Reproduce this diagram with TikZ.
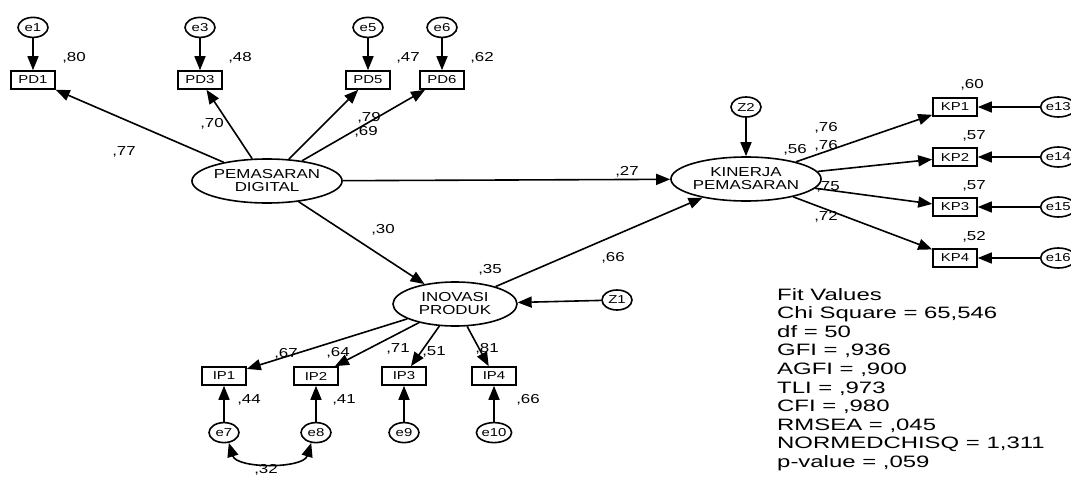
\documentclass[tikz,border=0pt]{standalone}
\usepackage{fontspec}
\setmainfont{Liberation Sans}
\newfontfamily\amosfont[FakeStretch=1.3]{Liberation Sans}
\newfontfamily\fitfont[FakeStretch=1.45]{Liberation Sans}
\usepackage{tikz}
\usetikzlibrary{positioning,shapes.geometric,arrows.meta}

\begin{document}
\begin{tikzpicture}[x=1pt,y=-1pt,
				latent/.style={draw, ellipse, line width=1.6pt, inner sep=0pt,
					minimum width=124pt, minimum height=44pt,
					align=center, font=\amosfont\fontsize{13}{13}\selectfont},
				err/.style={draw, ellipse, line width=1.6pt, inner sep=0pt,
					minimum width=30pt, minimum height=20pt,
					font=\amosfont\fontsize{11.5}{11.5}\selectfont},
				obs/.style={draw, rectangle, line width=1.6pt, inner sep=0pt,
					minimum width=44pt, minimum height=18pt,
					font=\amosfont\fontsize{11.5}{11.5}\selectfont},
				val/.style={inner sep=0pt, font=\amosfont\fontsize{13}{13}\selectfont},
				path/.style={-{Triangle[length=14pt,width=11pt]}, line width=1.6pt},
				cov/.style={{Triangle[length=14pt,width=11pt]}-{Triangle[length=14pt,width=11pt]}, line width=1.6pt}
				]
				\useasboundingbox (0,0) rectangle (1071,479);
				% latent variables
				\node[latent] (pd) at (267,181) {PEMASARAN\\DIGITAL};
				\node[latent] (kp) at (746,179) {KINERJA\\PEMASARAN};
				\node[latent] (ip) at (455,304) {INOVASI\\PRODUK};
				\node[err] (z2) at (746,107) {Z2};
				\node[err] (z1) at (617,300) {Z1};
				% pemasaran digital indicators
				\node[obs] (pd1) at (33,80) {PD1};
				\node[obs] (pd3) at (200,80) {PD3};
				\node[obs] (pd5) at (368,80) {PD5};
				\node[obs] (pd6) at (442,80) {PD6};
				\node[err, above=32pt of pd1] (e1) {e1};
				\node[err, above=32pt of pd3] (e3) {e3};
				\node[err, above=32pt of pd5] (e5) {e5};
				\node[err, above=32pt of pd6] (e6) {e6};
				% kinerja pemasaran indicators
				\node[obs] (kp1) at (955,107) {KP1};
				\node[obs] (kp2) at (955,157) {KP2};
				\node[obs] (kp3) at (955,207) {KP3};
				\node[obs] (kp4) at (955,258) {KP4};
				\node[err, right=62pt of kp1] (e13) {e13};
				\node[err, right=62pt of kp2] (e14) {e14};
				\node[err, right=62pt of kp3] (e15) {e15};
				\node[err, right=62pt of kp4] (e16) {e16};
				% inovasi produk indicators
				\node[obs] (ip1) at (224,376) {IP1};
				\node[obs] (ip2) at (316,376) {IP2};
				\node[obs] (ip3) at (404,376) {IP3};
				\node[obs] (ip4) at (494,376) {IP4};
				\node[err, below=36pt of ip1] (e7) {e7};
				\node[err, below=36pt of ip2] (e8) {e8};
				\node[err, below=36pt of ip3] (e9) {e9};
				\node[err, below=36pt of ip4] (e10) {e10};
				% paths
				\draw[path] (pd) -- (pd1);
				\draw[path] (pd) -- (pd3);
				\draw[path] (pd) -- (pd5);
				\draw[path] (pd) -- (pd6);
				\draw[path] (e1) -- (pd1);
				\draw[path] (e3) -- (pd3);
				\draw[path] (e5) -- (pd5);
				\draw[path] (e6) -- (pd6);
				\draw[path] (pd) -- (kp);
				\draw[path] (pd) -- (ip);
				\draw[path] (ip) -- (kp);
				\draw[path] (z2) -- (kp);
				\draw[path] (z1) -- (ip);
				\draw[path] (kp) -- (kp1);
				\draw[path] (kp) -- (kp2);
				\draw[path] (kp) -- (kp3);
				\draw[path] (kp) -- (kp4);
				\draw[path] (e13) -- (kp1);
				\draw[path] (e14) -- (kp2);
				\draw[path] (e15) -- (kp3);
				\draw[path] (e16) -- (kp4);
				\draw[path] (ip) -- (ip1);
				\draw[path] (ip) -- (ip2);
				\draw[path] (ip) -- (ip3);
				\draw[path] (ip) -- (ip4);
				\draw[path] (e7) -- (ip1);
				\draw[path] (e8) -- (ip2);
				\draw[path] (e9) -- (ip3);
				\draw[path] (e10) -- (ip4);
				\draw[cov] (e7.-65) .. controls +(8,26) and +(-8,26) .. (e8.-115);
				% estimates
				\node[val] (r1) at (74,58) {,80};
				\node[val] (r3) at (240,58) {,48};
				\node[val] (r5) at (408,58) {,47};
				\node[val] (r6) at (482,58) {,62};
				\node[val] (l1) at (124,152) {,77};
				\node[val] (l3) at (212,124) {,70};
				\node[val] (l5) at (369,118) {,79};
				\node[val] (l6) at (366,132) {,69};
				\node[val] (b1) at (627,172) {,27};
				\node[val] (b2) at (383,230) {,30};
				\node[val] (b3) at (613,258) {,66};
				\node[val] (rkp) at (795,150) {,56};
				\node[val] (rip) at (490,270) {,35};
				\node[val] (l13) at (826,128) {,76};
				\node[val] (l14) at (826,146) {,76};
				\node[val] (l15) at (828,187) {,75};
				\node[val] (l16) at (826,217) {,72};
				\node[val] (r13) at (972,85) {,60};
				\node[val] (r14) at (974,136) {,57};
				\node[val] (r15) at (974,186) {,57};
				\node[val] (r16) at (974,237) {,52};
				\node[val] (l7) at (286,354) {,67};
				\node[val] (l8) at (338,353) {,64};
				\node[val] (l9) at (398,349) {,71};
				\node[val] (r9) at (434,352) {,51};
				\node[val] (l10) at (487,349) {,81};
				\node[val] (r7) at (249,400) {,44};
				\node[val] (r8) at (344,400) {,41};
				\node[val] (r10) at (528,400) {,66};
				\node[val] (c78) at (266,470) {,32};
				% fit values
				\node[anchor=north west, align=left, inner sep=0pt,
					font=\fitfont\fontsize{16.5}{18.6}\selectfont] (fit) at (777,288)
					{Fit Values\\Chi Square = 65,546\\df = 50\\GFI = ,936\\AGFI = ,900\\TLI = ,973\\CFI = ,980\\RMSEA = ,045\\NORMEDCHISQ = 1,311\\p-value = ,059};
			\end{tikzpicture}
\end{document}
